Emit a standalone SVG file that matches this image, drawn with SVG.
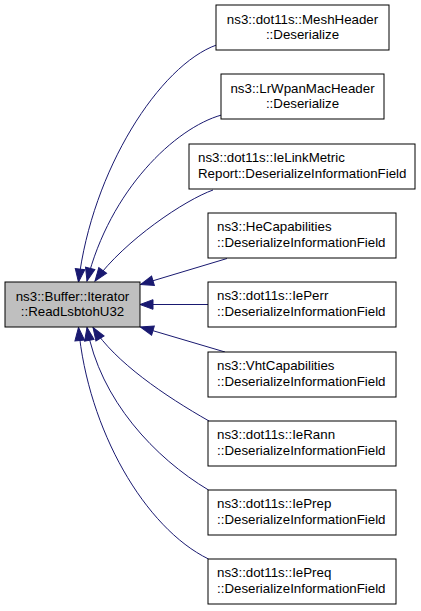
<svg xmlns="http://www.w3.org/2000/svg" width="421" height="611" viewBox="0 0 421 611">
<defs>
<style>
.box{fill:#ffffff;stroke:#000000;stroke-width:1}
.main{fill:#bfbfbf;stroke:#000000;stroke-width:1}
text{font-family:"Liberation Sans",Arial,sans-serif;font-size:13.3px;fill:#000000}
.c{text-anchor:middle}
.edge{fill:none;stroke:#191970;stroke-width:1;marker-end:url(#ah)}
</style>
<marker id="ah" markerUnits="userSpaceOnUse" markerWidth="16" markerHeight="12" viewBox="-14 -6 16 12" refX="0" refY="0" orient="auto">
<polygon points="0,0 -13,-4.8 -13,4.8" fill="#191970" stroke="#191970" stroke-width="1"/>
</marker>
</defs>
<rect width="421" height="611" fill="#ffffff"/>
<g id="connectors">
<path class="edge" d="M216.5,45 C160,65 92,170 78.5,282"/>
<path class="edge" d="M221.5,115 C175,128 110,190 87,281"/>
<path class="edge" d="M213,190 C185,200 125,240 95,281"/>
<path class="edge" d="M227,258.5 L140.5,284.5"/>
<path class="edge" d="M208,304.5 L140,304.5"/>
<path class="edge" d="M225,352 L140.5,327"/>
<path class="edge" d="M209,421 C165,396 115,362 93,327.5"/>
<path class="edge" d="M208.5,490 C155,458 100,400 87,327.5"/>
<path class="edge" d="M208.5,559 C145,528 88,430 78.5,327.5"/>
</g>
<g id="node_main">
<rect class="main" x="5" y="282" width="135" height="45"/>
<text class="c" x="72.5" y="301">ns3::Buffer::Iterator</text>
<text class="c" x="72.5" y="316">::ReadLsbtohU32</text>
</g>
<g id="node_meshheader">
<rect class="box" x="216" y="5" width="173" height="45"/>
<text class="c" x="302.5" y="24">ns3::dot11s::MeshHeader</text>
<text class="c" x="302.5" y="39">::Deserialize</text>
</g>
<g id="node_lrwpan">
<rect class="box" x="221" y="74" width="163" height="45"/>
<text class="c" x="302.5" y="93">ns3::LrWpanMacHeader</text>
<text class="c" x="302.5" y="108">::Deserialize</text>
</g>
<g id="node_ielinkmetric">
<rect class="box" x="189" y="144" width="226" height="45"/>
<text x="198" y="162">ns3::dot11s::IeLinkMetric</text>
<text x="198" y="178">Report::DeserializeInformationField</text>
</g>
<g id="node_hecap">
<rect class="box" x="208" y="213" width="188" height="45"/>
<text x="217" y="231">ns3::HeCapabilities</text>
<text x="217" y="247">::DeserializeInformationField</text>
</g>
<g id="node_ieperr">
<rect class="box" x="208" y="282" width="188" height="45"/>
<text x="217" y="300">ns3::dot11s::IePerr</text>
<text x="217" y="316">::DeserializeInformationField</text>
</g>
<g id="node_vhtcap">
<rect class="box" x="208" y="352" width="188" height="45"/>
<text x="217" y="370">ns3::VhtCapabilities</text>
<text x="217" y="386">::DeserializeInformationField</text>
</g>
<g id="node_ierann">
<rect class="box" x="208" y="421" width="188" height="45"/>
<text x="217" y="439">ns3::dot11s::IeRann</text>
<text x="217" y="455">::DeserializeInformationField</text>
</g>
<g id="node_ieprep">
<rect class="box" x="208" y="490" width="188" height="45"/>
<text x="217" y="508">ns3::dot11s::IePrep</text>
<text x="217" y="524">::DeserializeInformationField</text>
</g>
<g id="node_iepreq">
<rect class="box" x="208" y="559" width="188" height="45"/>
<text x="217" y="577">ns3::dot11s::IePreq</text>
<text x="217" y="593">::DeserializeInformationField</text>
</g>
</svg>
